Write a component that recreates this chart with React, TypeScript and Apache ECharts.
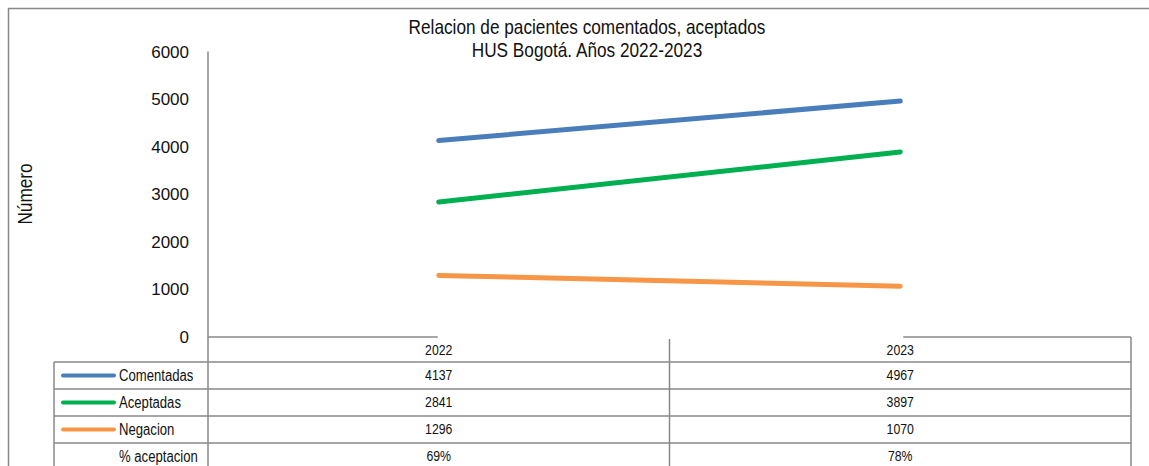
import React, { useEffect, useRef } from "react";
import * as echarts from "echarts";

const categories = ["2022", "2023"];
const seriesNames = ["Comentadas", "Aceptadas", "Negacion"];
const comentadas = [4137, 4967];
const aceptadas = [2841, 3897];
const negacion = [1296, 1070];
const aceptacionPct = ["69%", "78%"];
const pctLabel = "% aceptacion";
const yMin = 0;
const yMax = 6000;
const yInterval = 1000;
const titleLines = ["Relacion de pacientes comentados, aceptados", "HUS Bogotá. Años 2022-2023"];
const yName = "Número";

const COLORS = ["#4a7ebb", "#00b050", "#f79646"];
const FONT = '"Liberation Sans", Arial, sans-serif';
const SX = 0.82;
const GRID = "#888888";
const W = 1149;
const H = 466;
const G_LEFT = 208;
const G_RIGHT = 1131;
const G_TOP = 52;
const G_BOTTOM = 337;

export default function App() {
  const ref = useRef<HTMLDivElement>(null);
  useEffect(() => {
    document.body.style.margin = "0";
    const chart = echarts.init(ref.current!, null, { renderer: "svg" });
    const seriesData = [comentadas, aceptadas, negacion];
    const rowTop = [362, 389, 416, 443];
    const rowH = 27;
    const colW = (G_RIGHT - G_LEFT) / categories.length;
    const colCenters = categories.map((_, i) => G_LEFT + colW * (i + 0.5));

    const lineStyle = { stroke: GRID, lineWidth: 1.5 };
    const graphics: any[] = [];
    graphics.push({ type: "rect", shape: { x: 8.5, y: 8.5, width: W + 10, height: H + 10 }, style: { fill: "none", stroke: GRID, lineWidth: 1.5 }, silent: true });
    graphics.push({ type: "line", shape: { x1: G_LEFT, y1: G_BOTTOM, x2: colCenters[0] - 1, y2: G_BOTTOM }, style: lineStyle });
    graphics.push({ type: "line", shape: { x1: colCenters[1] + 3, y1: G_BOTTOM, x2: G_RIGHT, y2: G_BOTTOM }, style: lineStyle });
    graphics.push({ type: "line", shape: { x1: G_LEFT, y1: G_BOTTOM, x2: G_LEFT, y2: H + 5 }, style: lineStyle });
    graphics.push({ type: "line", shape: { x1: G_LEFT + colW, y1: G_BOTTOM + 2, x2: G_LEFT + colW, y2: H + 5 }, style: lineStyle });
    graphics.push({ type: "line", shape: { x1: G_RIGHT, y1: G_BOTTOM, x2: G_RIGHT, y2: H + 5 }, style: lineStyle });
    graphics.push({ type: "line", shape: { x1: 54, y1: rowTop[0], x2: 54, y2: H + 5 }, style: lineStyle });
    rowTop.forEach((y) => {
      graphics.push({ type: "line", shape: { x1: 54, y1: y, x2: G_RIGHT, y2: y }, style: lineStyle });
    });
    const rowLabels = [...seriesNames, pctLabel];
    rowLabels.forEach((name, r) => {
      const cy = rowTop[r] + rowH / 2;
      if (r < seriesNames.length) {
        graphics.push({ type: "line", shape: { x1: 63, y1: cy, x2: 114, y2: cy }, style: { stroke: COLORS[r], lineWidth: 4, lineCap: "round" } });
      }
      graphics.push({ type: "text", x: 119, y: cy, scaleX: SX, style: { text: name, font: `16px ${FONT}`, fill: "#111", textVerticalAlign: "middle", textAlign: "left" } });
    });
    const rowValues = [...seriesData.map((arr) => arr.map(String)), aceptacionPct];
    rowValues.forEach((vals, r) => {
      const cy = rowTop[r] + rowH / 2;
      vals.forEach((v, c) => {
        graphics.push({ type: "text", x: colCenters[c], y: cy, scaleX: SX, style: { text: v, font: `15px ${FONT}`, fill: "#111", textAlign: "center", textVerticalAlign: "middle" } });
      });
    });
    categories.forEach((c, i) => {
      graphics.push({ type: "text", x: colCenters[i], y: 350, scaleX: SX, style: { text: c, font: `15px ${FONT}`, fill: "#111", textAlign: "center", textVerticalAlign: "middle" } });
    });
    titleLines.forEach((t, i) => {
      graphics.push({ type: "text", x: 587, y: 27 + i * 23, scaleX: SX, style: { text: t, font: `21px ${FONT}`, fill: "#111", textAlign: "center", textVerticalAlign: "middle" } });
    });
    graphics.push({ type: "text", x: 25, y: 194, rotation: Math.PI / 2, scaleX: SX, style: { text: yName, font: `21px ${FONT}`, fill: "#111", textAlign: "center", textVerticalAlign: "middle" } });

    chart.setOption({
      animation: false,
      backgroundColor: "#ffffff",
      grid: { left: G_LEFT, right: W - G_RIGHT, top: G_TOP, bottom: H - G_BOTTOM, containLabel: false },
      xAxis: {
        type: "category",
        data: categories,
        boundaryGap: true,
        axisLine: { show: false },
        axisTick: { show: false },
        axisLabel: { show: false },
        splitLine: { show: false },
      },
      yAxis: {
        type: "value",
        min: yMin,
        max: yMax,
        interval: yInterval,
        axisLine: { show: true, onZero: false, lineStyle: { color: GRID, width: 1.5 } },
        axisTick: { show: false },
        axisLabel: { color: "#111", fontFamily: FONT, fontSize: 17, margin: 19, formatter: (v: number) => String(v) },
        splitLine: { show: false },
      },
      series: seriesNames.map((name, i) => ({
        name,
        type: "line",
        data: seriesData[i],
        symbol: "none",
        lineStyle: { color: COLORS[i], width: 5, cap: "round" },
        itemStyle: { color: COLORS[i] },
      })),
      graphic: graphics,
    });
    return () => chart.dispose();
  }, []);
  return <div ref={ref} style={{ width: W, height: H }} />;
}
